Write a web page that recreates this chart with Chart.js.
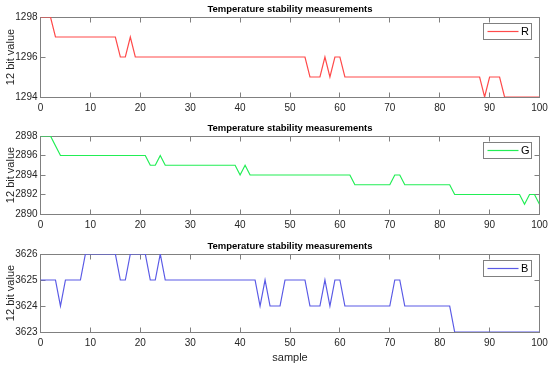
<!DOCTYPE html>
<html>
<head>
<meta charset="utf-8">
<script src="https://cdn.jsdelivr.net/npm/chart.js@4"></script>
<style>
  body { margin: 0; background: #fff; }
  #wrap { position: relative; width: 550px; height: 369px; }
  canvas { position: absolute; left: 0; }
</style>
</head>
<body>
<div id="wrap">
  <canvas id="chartR" width="550" height="118" style="top:0px"></canvas>
  <canvas id="chartG" width="550" height="116" style="top:119px"></canvas>
  <canvas id="chartB" width="550" height="132" style="top:237px"></canvas>
</div>
<script>
// values, one per sample 0..100
const redValues = [
  1298, 1298, 1298, 1297, 1297, 1297, 1297, 1297, 1297, 1297,
  1297, 1297, 1297, 1297, 1297, 1297, 1296, 1296, 1297, 1296,
  1296, 1296, 1296, 1296, 1296, 1296, 1296, 1296, 1296, 1296,
  1296, 1296, 1296, 1296, 1296, 1296, 1296, 1296, 1296, 1296,
  1296, 1296, 1296, 1296, 1296, 1296, 1296, 1296, 1296, 1296,
  1296, 1296, 1296, 1296, 1295, 1295, 1295, 1296, 1295, 1296,
  1296, 1295, 1295, 1295, 1295, 1295, 1295, 1295, 1295, 1295,
  1295, 1295, 1295, 1295, 1295, 1295, 1295, 1295, 1295, 1295,
  1295, 1295, 1295, 1295, 1295, 1295, 1295, 1295, 1295, 1294,
  1295, 1295, 1295, 1294, 1294, 1294, 1294, 1294, 1294, 1294,
  1294
];
const greenValues = [
  2898, 2898, 2898, 2897, 2896, 2896, 2896, 2896, 2896, 2896,
  2896, 2896, 2896, 2896, 2896, 2896, 2896, 2896, 2896, 2896,
  2896, 2896, 2895, 2895, 2896, 2895, 2895, 2895, 2895, 2895,
  2895, 2895, 2895, 2895, 2895, 2895, 2895, 2895, 2895, 2895,
  2894, 2895, 2894, 2894, 2894, 2894, 2894, 2894, 2894, 2894,
  2894, 2894, 2894, 2894, 2894, 2894, 2894, 2894, 2894, 2894,
  2894, 2894, 2894, 2893, 2893, 2893, 2893, 2893, 2893, 2893,
  2893, 2894, 2894, 2893, 2893, 2893, 2893, 2893, 2893, 2893,
  2893, 2893, 2893, 2892, 2892, 2892, 2892, 2892, 2892, 2892,
  2892, 2892, 2892, 2892, 2892, 2892, 2892, 2891, 2892, 2892,
  2891
];
const blueValues = [
  3625, 3625, 3625, 3625, 3624, 3625, 3625, 3625, 3625, 3626,
  3626, 3626, 3626, 3626, 3626, 3626, 3625, 3625, 3626, 3626,
  3626, 3626, 3625, 3625, 3626, 3625, 3625, 3625, 3625, 3625,
  3625, 3625, 3625, 3625, 3625, 3625, 3625, 3625, 3625, 3625,
  3625, 3625, 3625, 3625, 3624, 3625, 3624, 3624, 3624, 3625,
  3625, 3625, 3625, 3625, 3624, 3624, 3624, 3625, 3624, 3625,
  3625, 3624, 3624, 3624, 3624, 3624, 3624, 3624, 3624, 3624,
  3624, 3625, 3625, 3624, 3624, 3624, 3624, 3624, 3624, 3624,
  3624, 3624, 3624, 3623, 3623, 3623, 3623, 3623, 3623, 3623,
  3623, 3623, 3623, 3623, 3623, 3623, 3623, 3623, 3623, 3623,
  3623
];
const samples = redValues.map((v, i) => i);

const titleText = "Temperature stability measurements";
const yLabel = "12 bit value";
const xLabel = "sample";

const fontFamily = "'Liberation Sans', Arial, sans-serif";
const boxColor = "#808080";
const textColor = "#262626";

// matlab style box with inward ticks on all four sides
const axesBox = {
  id: "axesBox",
  beforeDatasetsDraw(chart) {
    const { ctx, chartArea: a, scales: { x, y } } = chart;
    const px = v => Math.round(v - 0.5) + 0.5;
    const L = px(a.left), R = px(a.right), T = px(a.top), B = px(a.bottom);
    const len = 5;
    ctx.save();
    ctx.strokeStyle = boxColor;
    ctx.lineWidth = 1;
    ctx.strokeRect(L, T, R - L, B - T);
    ctx.beginPath();
    x.ticks.forEach(t => {
      const xx = px(x.getPixelForValue(t.value));
      ctx.moveTo(xx, B); ctx.lineTo(xx, B - len);
      ctx.moveTo(xx, T); ctx.lineTo(xx, T + len);
    });
    y.ticks.forEach(t => {
      const yy = px(y.getPixelForValue(t.value));
      ctx.moveTo(L, yy); ctx.lineTo(L + len, yy);
      ctx.moveTo(R, yy); ctx.lineTo(R - len, yy);
    });
    ctx.stroke();
    ctx.restore();
  },
  afterDatasetsDraw(chart) {
    const { ctx, chartArea: a } = chart;
    const ds = chart.data.datasets[0];
    const left = Math.round(a.right - 57) + 0.5;
    const top = Math.round(a.top + 6) + 0.5;
    ctx.save();
    ctx.fillStyle = "#fff";
    ctx.fillRect(left, top, 48, 16);
    ctx.strokeStyle = boxColor;
    ctx.lineWidth = 1;
    ctx.strokeRect(left, top, 48, 16);
    ctx.strokeStyle = ds.borderColor;
    ctx.lineWidth = 1.2;
    ctx.beginPath();
    ctx.moveTo(left + 4, top + 8);
    ctx.lineTo(left + 35, top + 8);
    ctx.stroke();
    ctx.fillStyle = "#000";
    ctx.font = "11px " + fontFamily;
    ctx.textBaseline = "middle";
    ctx.fillText(ds.label, left + 37.5, top + 8.5);
    ctx.restore();
  }
};

function makeChart(id, label, values, color, yMin, yMax, yStep, showXTitle) {
  return new Chart(document.getElementById(id), {
    type: "line",
    data: {
      labels: samples,
      datasets: [{
        label: label,
        data: values,
        borderColor: color,
        borderWidth: 1.2,
        pointRadius: 0,
        tension: 0
      }]
    },
    options: {
      responsive: false,
      animation: false,
      layout: { padding: { left: 0, right: 10.5, top: 0, bottom: 0 } },
      plugins: {
        legend: { display: false },
        tooltip: { enabled: false },
        title: {
          display: true,
          text: titleText,
          fullSize: false,
          color: "#000",
          font: { family: fontFamily, size: 9.5, weight: "bold" },
          padding: { top: 3.3, bottom: 2.3 }
        }
      },
      scales: {
        x: {
          type: "linear",
          min: 0, max: 100,
          grid: { display: false, drawTicks: false },
          border: { display: false },
          ticks: {
            stepSize: 10, padding: 5.5, color: textColor,
            font: { family: fontFamily, size: 10 },
            callback: v => String(v)
          },
          title: {
            display: showXTitle,
            text: xLabel,
            color: textColor,
            font: { family: fontFamily, size: 11 },
            padding: { top: 0, bottom: 4.6 }
          },
          afterFit: s => {
            s.height = showXTitle ? 37 : 21;
            s.paddingLeft = 0;
            s.paddingRight = 0;
          }
        },
        y: {
          min: yMin, max: yMax,
          grid: { display: false, drawTicks: false },
          border: { display: false },
          ticks: {
            stepSize: yStep, padding: 3, color: textColor,
            font: { family: fontFamily, size: 10 },
            callback: v => String(v)
          },
          title: {
            display: true,
            text: yLabel,
            color: textColor,
            font: { family: fontFamily, size: 11 },
            padding: { top: 4.4, bottom: 0 }
          },
          afterFit: s => { s.width = 40.5; }
        }
      }
    },
    plugins: [axesBox]
  });
}

makeChart("chartR", "R", redValues, "#ff4a4a", 1294, 1298, 2, false);
makeChart("chartG", "G", greenValues, "#22ee55", 2890, 2898, 2, false);
makeChart("chartB", "B", blueValues, "#5a5ae6", 3623, 3626, 1, true);
</script>
</body>
</html>
